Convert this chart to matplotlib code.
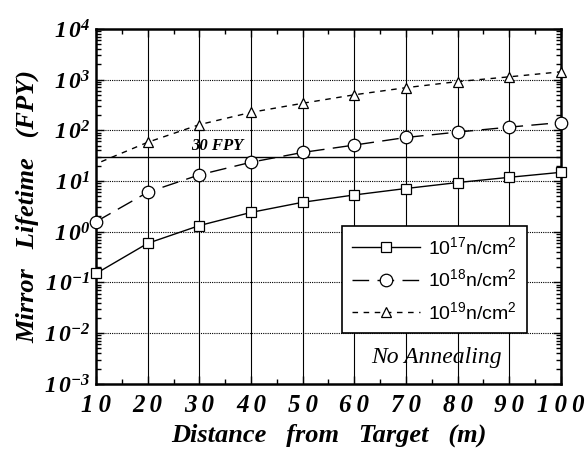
import matplotlib
matplotlib.use("Agg")
import matplotlib.pyplot as plt
from matplotlib.ticker import FixedLocator, LogLocator, NullFormatter

# values (lifetime in FPY vs distance in m)
distance = [10, 20, 30, 40, 50, 60, 70, 80, 90, 100]
life_1e17 = [0.15, 0.59, 1.32, 2.4, 3.8, 5.3, 7.1, 9.3, 11.8, 14.8]
life_1e18 = [1.58, 6.0, 13.2, 23.4, 36.5, 51, 72, 92, 115, 142]
# dashed 1e19 curve starts just right of x=10, markers from 20 on
distance_1e19 = [11, 20, 30, 40, 50, 60, 70, 80, 90, 100]
life_1e19 = [24, 58, 129, 225, 340, 500, 690, 910, 1130, 1420]
limit_fpy = 30

x_ticks = [10, 20, 30, 40, 50, 60, 70, 80, 90, 100]
x_ticklabels = ['1\u20090', '2\u20090', '3\u20090', '4\u20090', '5\u20090',
                '6\u20090', '7\u20090', '8\u20090', '9\u20090', '1\u20090\u20090']
y_exponents = [-3, -2, -1, 0, 1, 2, 3, 4]

plt.rcParams['mathtext.fontset'] = 'custom'
plt.rcParams['mathtext.rm'] = 'Liberation Serif:bold:italic'
plt.rcParams['mathtext.it'] = 'Liberation Serif:bold:italic'
plt.rcParams['mathtext.bf'] = 'Liberation Serif:bold:italic'
plt.rcParams['mathtext.sf'] = 'Liberation Sans'

serif_bi = dict(family='Liberation Serif', weight='bold', style='italic')

fig = plt.figure(figsize=(5.86, 4.5), dpi=100)
ax = fig.add_axes([0.164, 0.147, 0.793, 0.789])

ax.set_yscale('log')
ax.set_xlim(10, 100)
ax.set_ylim(1e-3, 1e4)

# grid: solid verticals, dotted horizontals
for xv in x_ticks[1:-1]:
    ax.axvline(xv, color='black', lw=0.8, zorder=1)
for e in y_exponents[1:-1]:
    ax.axhline(10.0 ** e, color='black', lw=0.8, ls=(0, (1, 1)), zorder=1)

ax.axhline(limit_fpy, color='black', lw=1.0, zorder=2)
ax.text(33.5, limit_fpy * 1.12, '30 FPY', fontsize=12, ha='center', va='bottom',
        **serif_bi)

ax.plot(distance, life_1e17, color='black', lw=1.0, marker='s', ms=7,
        mfc='white', mec='black', mew=0.9, clip_on=False, zorder=4,
        label=r'$\mathsf{10^{17}n/cm^{2}}$')
ax.plot(distance, life_1e18, color='black', lw=1.0, ls=(0, (12, 6)),
        marker='o', ms=9, mfc='white', mec='black', mew=0.9, clip_on=False,
        zorder=4, label=r'$\mathsf{10^{18}n/cm^{2}}$')
ax.plot(distance_1e19, life_1e19, color='black', lw=1.0, ls=(0, (4, 4)),
        marker='^', ms=7, mfc='white', mec='black', mew=0.9,
        markevery=list(range(1, len(distance_1e19))), clip_on=False,
        zorder=4, label=r'$\mathsf{10^{19}n/cm^{2}}$')

leg = ax.legend(loc='upper left', bbox_to_anchor=(0.529, 0.444), fontsize=14,
                handlelength=3.5, frameon=True, fancybox=False,
                framealpha=1, borderpad=0.5, labelspacing=0.55,
                handletextpad=0.45, borderaxespad=0)
leg.get_frame().set_edgecolor('black')
leg.get_frame().set_linewidth(1.2)
leg.set_zorder(6)

ax.text(0.733, 0.075, 'No Annealing', transform=ax.transAxes, fontsize=17,
        family='Liberation Serif', style='italic', ha='center', va='center',
        zorder=7)

# ticks
ax.xaxis.set_major_locator(FixedLocator(x_ticks))
ax.xaxis.set_minor_locator(FixedLocator([15, 25, 35, 45, 55, 65, 75, 85, 95]))
ax.set_xticklabels(x_ticklabels)
ax.yaxis.set_major_locator(FixedLocator([10.0 ** e for e in y_exponents]))
ax.yaxis.set_minor_locator(LogLocator(base=10, subs=range(2, 10), numticks=20))
ax.yaxis.set_minor_formatter(NullFormatter())
ax.set_yticklabels([r'$1\,0^{%d}$' % e for e in y_exponents])

ax.tick_params(which='both', direction='in', top=True, right=True, width=1.0)
ax.tick_params(which='major', length=6)
ax.tick_params(which='minor', length=3.5)
ax.tick_params(axis='x', pad=7)
ax.tick_params(axis='y', pad=4)
for lab in ax.get_xticklabels():
    lab.set_fontproperties(dict(serif_bi, size=18))
for lab in ax.get_yticklabels():
    lab.set_fontsize(17)

for sp in ax.spines.values():
    sp.set_linewidth(1.8)

ax.set_xlabel('Distance   from   Target   (m)', fontsize=19, labelpad=5,
              **serif_bi)
ax.set_ylabel('Mirror   Lifetime   (FPY)', fontsize=19, labelpad=3, **serif_bi)

fig.savefig('out.png', dpi=100)
